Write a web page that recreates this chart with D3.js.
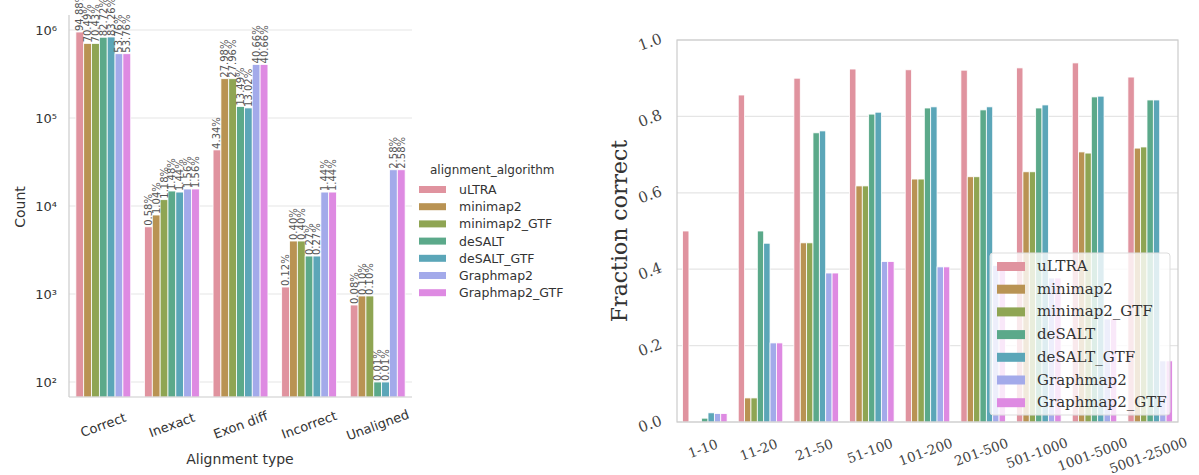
<!DOCTYPE html>
<html>
<head>
<meta charset="utf-8">
<script src="https://cdn.jsdelivr.net/npm/d3@7"></script>
<style>
  body { margin: 0; background: #fff; }
  svg { display: block; }
</style>
</head>
<body>
<div id="chart"></div>
<script>
// categories and series
const algorithms = ["uLTRA", "minimap2", "minimap2_GTF", "deSALT", "deSALT_GTF", "Graphmap2", "Graphmap2_GTF"];
const colors = ["#e0939f", "#b99353", "#8fa553", "#5ba98a", "#5ba6b8", "#a3aaea", "#de8ae2"];

// left chart: counts per alignment type (one value per algorithm)
const alignTypes = ["Correct", "Inexact", "Exon diff", "Incorrect", "Unaligned"];
const countCorrect   = [948800, 704900, 704300, 827200, 832600, 537600, 537600];
const countInexact   = [5800, 7900, 11800, 14800, 14400, 15600, 15600];
const countExonDiff  = [43400, 279800, 279600, 134900, 130200, 406600, 406600];
const countIncorrect = [1200, 4000, 4000, 2700, 2700, 14400, 14400];
const countUnaligned = [750, 950, 950, 100, 100, 25800, 25800];
const pctCorrect   = ["94.88%", "70.49%", "70.43%", "82.72%", "83.26%", "53.76%", "53.76%"];
const pctInexact   = ["0.58%", "1.04%", "1.18%", "1.48%", "1.44%", "1.56%", "1.56%"];
const pctExonDiff  = ["4.34%", "27.98%", "27.96%", "13.49%", "13.02%", "40.66%", "40.66%"];
const pctIncorrect = ["0.12%", "0.40%", "0.40%", "0.27%", "0.27%", "1.44%", "1.44%"];
const pctUnaligned = ["0.08%", "0.10%", "0.10%", "0.01%", "0.01%", "2.58%", "2.58%"];
const countTicks = [1e2, 1e3, 1e4, 1e5, 1e6];

// right chart: fraction correct per read length bin
const lengthBins = ["1-10", "11-20", "21-50", "51-100", "101-200", "201-500", "501-1000", "1001-5000", "5001-25000"];
const fracULTRA       = [0.50, 0.856, 0.90, 0.924, 0.922, 0.921, 0.927, 0.94, 0.903];
const fracMinimap2    = [0, 0.063, 0.469, 0.618, 0.636, 0.642, 0.655, 0.707, 0.717];
const fracMinimap2GTF = [0, 0.063, 0.469, 0.618, 0.636, 0.642, 0.655, 0.704, 0.72];
const fracDeSALT      = [0.01, 0.50, 0.757, 0.806, 0.822, 0.817, 0.822, 0.851, 0.843];
const fracDeSALTGTF   = [0.024, 0.468, 0.762, 0.811, 0.825, 0.825, 0.83, 0.853, 0.843];
const fracGraphmap2   = [0.022, 0.207, 0.39, 0.42, 0.406, 0.41, 0.377, 0.27, 0.16];
const fracGraphmap2GTF = [0.022, 0.207, 0.39, 0.42, 0.406, 0.41, 0.377, 0.27, 0.16];
const fracTicks = [0, 0.2, 0.4, 0.6, 0.8, 1.0];

const leftCounts = [countCorrect, countInexact, countExonDiff, countIncorrect, countUnaligned];
const leftPcts = [pctCorrect, pctInexact, pctExonDiff, pctIncorrect, pctUnaligned];
const rightSeries = [fracULTRA, fracMinimap2, fracMinimap2GTF, fracDeSALT, fracDeSALTGTF, fracGraphmap2, fracGraphmap2GTF];

const W = 1199, H = 475;
const svg = d3.select("#chart").append("svg").attr("width", W).attr("height", H);
const color = d3.scaleOrdinal().domain(algorithms).range(colors);

// ---------- left chart ----------
const L = { left: 69, right: 412, top: 15, bottom: 397 };
const lx = d3.scaleBand().domain(alignTypes).range([L.left, L.right]).paddingInner(0.2).paddingOuter(0.1);
const lxInner = d3.scaleBand().domain(algorithms).range([0, lx.bandwidth()]);
const ly = d3.scaleLog().domain([Math.pow(10, 2 - 15 / 88), Math.pow(10, 6 + 15 / 88)]).range([L.bottom, L.top]);

const lg = svg.append("g");
lg.selectAll("line.grid").data(countTicks).enter().append("line")
  .attr("x1", L.left).attr("x2", L.right)
  .attr("y1", d => ly(d)).attr("y2", d => ly(d))
  .attr("stroke", "#e5e5e5").attr("stroke-width", 1.2);

const leftRows = [];
alignTypes.forEach((t, i) => algorithms.forEach((a, j) => leftRows.push({ t, a, v: leftCounts[i][j], p: leftPcts[i][j] })));

lg.selectAll("rect.bar").data(leftRows).enter().append("rect")
  .attr("x", d => lx(d.t) + lxInner(d.a))
  .attr("width", lxInner.bandwidth())
  .attr("y", d => ly(d.v))
  .attr("height", d => L.bottom - ly(d.v))
  .attr("fill", d => color(d.a))
  .attr("stroke", "#fff").attr("stroke-width", 0.8);

lg.selectAll("text.pct").data(leftRows).enter().append("text")
  .attr("transform", d => `translate(${lx(d.t) + lxInner(d.a) + lxInner.bandwidth() / 2 + 3.5},${ly(d.v) - 1}) rotate(-90)`)
  .attr("font-family", "DejaVu Sans").attr("font-size", 10).attr("fill", "#555")
  .text(d => d.p);

// spines
lg.append("line").attr("x1", L.left).attr("x2", L.left).attr("y1", L.top).attr("y2", L.bottom).attr("stroke", "#ccc").attr("stroke-width", 1.2);
lg.append("line").attr("x1", L.left).attr("x2", L.right).attr("y1", L.bottom).attr("y2", L.bottom).attr("stroke", "#ccc").attr("stroke-width", 1.2);

// y ticks 10^n
const sup = ["⁰", "¹", "²", "³", "⁴", "⁵", "⁶"];
lg.selectAll("text.ytick").data(countTicks).enter().append("text")
  .attr("x", 57).attr("y", d => ly(d) + 5)
  .attr("text-anchor", "end").attr("font-family", "DejaVu Sans").attr("font-size", 13).attr("fill", "#333")
  .text(d => "10" + sup[Math.round(Math.log10(d))]);

lg.selectAll("text.xtick").data(alignTypes).enter().append("text")
  .attr("transform", d => `translate(${lx(d) + lx.bandwidth() / 2},${425}) rotate(-20)`)
  .attr("text-anchor", "middle").attr("dominant-baseline", "central")
  .attr("font-family", "DejaVu Sans").attr("font-size", 13).attr("fill", "#333")
  .text(d => d);

lg.append("text").attr("x", 240).attr("y", 464).attr("text-anchor", "middle")
  .attr("font-family", "DejaVu Sans").attr("font-size", 14).attr("fill", "#333").text("Alignment type");
lg.append("text").attr("transform", "translate(25,207) rotate(-90)").attr("text-anchor", "middle")
  .attr("font-family", "DejaVu Sans").attr("font-size", 14).attr("fill", "#333").text("Count");

// left legend
const leg1 = svg.append("g").attr("transform", "translate(419,170)");
leg1.append("text").attr("x", 11).attr("y", 4).attr("font-family", "DejaVu Sans").attr("font-size", 12).attr("fill", "#333").text("alignment_algorithm");
algorithms.forEach((a, i) => {
  const y = 19 + i * 17.2;
  leg1.append("rect").attr("x", 0).attr("y", y - 3).attr("width", 27).attr("height", 7).attr("fill", color(a));
  leg1.append("text").attr("x", 40).attr("y", y + 5).attr("font-family", "DejaVu Sans").attr("font-size", 12.5).attr("fill", "#333").text(a);
});

// ---------- right chart ----------
const R = { left: 677, right: 1178, top: 40, bottom: 422 };
const rx = d3.scaleBand().domain(lengthBins).range([R.left, R.right]).paddingInner(0.2).paddingOuter(0.1);
const rxInner = d3.scaleBand().domain(algorithms).range([0, rx.bandwidth()]);
const ry = d3.scaleLinear().domain([0, 1]).range([R.bottom, R.top]);

const rg = svg.append("g");
rg.selectAll("line.grid").data(fracTicks).enter().append("line")
  .attr("x1", R.left).attr("x2", R.right)
  .attr("y1", d => ry(d)).attr("y2", d => ry(d))
  .attr("stroke", "#e5e5e5").attr("stroke-width", 1.2);

const rightRows = [];
lengthBins.forEach((b, i) => algorithms.forEach((a, j) => rightRows.push({ b, a, v: rightSeries[j][i] })));
rg.selectAll("rect.bar").data(rightRows.filter(d => d.v > 0)).enter().append("rect")
  .attr("x", d => rx(d.b) + rxInner(d.a))
  .attr("width", rxInner.bandwidth())
  .attr("y", d => ry(d.v))
  .attr("height", d => R.bottom - ry(d.v))
  .attr("fill", d => color(d.a))
  .attr("stroke", "#fff").attr("stroke-width", 0.8);

rg.append("rect").attr("x", R.left).attr("y", R.top).attr("width", R.right - R.left).attr("height", R.bottom - R.top)
  .attr("fill", "none").attr("stroke", "#ccc").attr("stroke-width", 1.2);

rg.selectAll("text.ytick").data(fracTicks).enter().append("text")
  .attr("transform", d => `translate(${650},${ry(d) + 2}) rotate(-20)`)
  .attr("text-anchor", "middle").attr("dominant-baseline", "central")
  .attr("font-family", "DejaVu Serif").attr("font-size", 15).attr("fill", "#444")
  .text(d => d.toFixed(1));

rg.selectAll("text.xtick").data(lengthBins).enter().append("text")
  .attr("transform", d => `translate(${rx(d) + rx.bandwidth() / 2 - 2},${444 + d.length * 1.1}) rotate(-20)`)
  .attr("text-anchor", "middle").attr("dominant-baseline", "central")
  .attr("font-family", "DejaVu Serif").attr("font-size", 13.5).attr("fill", "#444")
  .text(d => d);

rg.append("text").attr("transform", "translate(627,231) rotate(-90)").attr("text-anchor", "middle")
  .attr("font-family", "DejaVu Serif").attr("font-size", 22).attr("fill", "#333").text("Fraction correct");

// right legend (semi-transparent frame)
const leg2 = svg.append("g").attr("transform", "translate(990,253)");
leg2.append("rect").attr("x", 0).attr("y", 0).attr("width", 180).attr("height", 162).attr("rx", 3)
  .attr("fill", "#fff").attr("fill-opacity", 0.8).attr("stroke", "#ddd").attr("stroke-width", 1);
algorithms.forEach((a, i) => {
  const y = 13 + i * 22.7;
  leg2.append("rect").attr("x", 7).attr("y", y - 4).attr("width", 28).attr("height", 9).attr("fill", color(a));
  leg2.append("text").attr("x", 47).attr("y", y + 5).attr("font-family", "DejaVu Serif").attr("font-size", 15).attr("fill", "#333").text(a);
});
</script>
</body>
</html>
